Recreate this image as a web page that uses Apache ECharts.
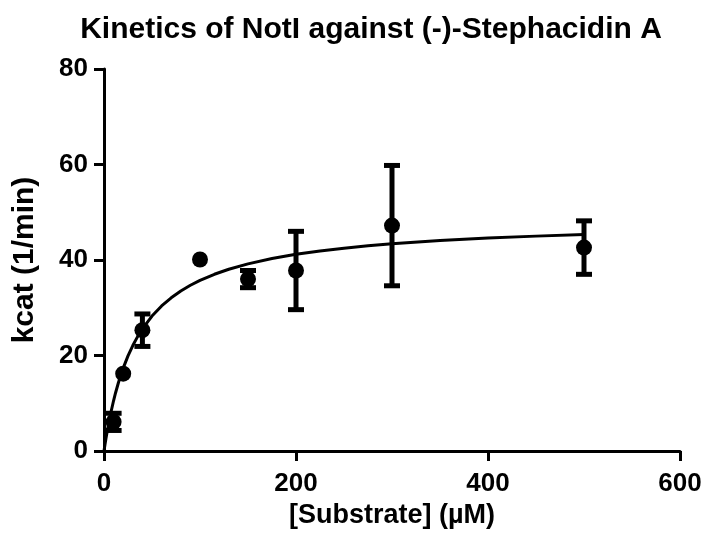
<!DOCTYPE html>
<html>
<head>
<meta charset="utf-8">
<script src="https://cdn.jsdelivr.net/npm/echarts@6/dist/echarts.min.js"></script>
<style>
  html, body { margin: 0; padding: 0; background: #ffffff; }
  #chart { width: 708px; height: 548px; }
</style>
</head>
<body>
<div id="chart"></div>
<script>
// Substrate concentrations (µM) and measured kcat (1/min), mean ± SD
var substrate = [10, 20, 40, 100, 150, 200, 300, 500];
var kcatMean  = [6.1, 16.2, 25.3, 40.1, 36.0, 37.8, 47.2, 42.6];
var kcatSD    = [1.8, 0, 3.4, 0, 1.8, 8.2, 12.6, 5.6];

// Michaelis–Menten fit curve, sampled along the substrate range
var fitX = [0, 1, 2, 3, 5, 7, 10, 12, 15, 20, 25, 30, 35, 40, 50, 60, 70, 80, 90, 100,
            115, 130, 150, 175, 200, 225, 250, 275, 300, 350, 400, 450, 500];
var fitY = [0, 1.31, 2.56, 3.74, 5.93, 7.91, 10.57, 12.15, 14.29, 17.36, 19.92, 22.09, 23.96, 25.58,
            28.26, 30.38, 32.09, 33.52, 34.71, 35.74, 37.01, 38.06, 39.19, 40.31, 41.19, 41.90,
            42.48, 42.97, 43.39, 44.07, 44.59, 45.00, 45.34];

// Axis ticks
var xTicks = [0, 200, 400, 600];
var yTicks = [0, 20, 40, 60, 80];

var FONT = '"Liberation Sans", Arial, Helvetica, sans-serif';

var points = substrate.map(function (x, i) { return [x, kcatMean[i]]; });
var errors = substrate.map(function (x, i) { return [x, kcatMean[i], kcatSD[i]]; });
var curve = fitX.map(function (x, i) { return [x, fitY[i]]; });

function renderErrorBar(params, api) {
  var x = api.value(0), m = api.value(1), sd = api.value(2);
  if (!(sd > 0)) return null;
  var top = api.coord([x, m + sd]);
  var bot = api.coord([x, m - sd]);
  var half = 8;
  var style = { stroke: '#000', lineWidth: 5, fill: null };
  return {
    type: 'group',
    children: [
      { type: 'line', shape: { x1: top[0], y1: top[1], x2: bot[0], y2: bot[1] }, style: style },
      { type: 'line', shape: { x1: top[0] - half, y1: top[1], x2: top[0] + half, y2: top[1] }, style: style },
      { type: 'line', shape: { x1: bot[0] - half, y1: bot[1], x2: bot[0] + half, y2: bot[1] }, style: style }
    ]
  };
}

var chart = echarts.init(document.getElementById('chart'), null, { renderer: 'canvas' });
chart.setOption({
  backgroundColor: '#ffffff',
  animation: false,
  title: {
    text: 'Kinetics of NotI against (-)-Stephacidin A',
    left: 366,
    top: 10,
    textAlign: 'center',
    textStyle: { fontFamily: FONT, fontWeight: 'bold', fontSize: 30, color: '#000' }
  },
  grid: { left: 104, right: 28, top: 69, bottom: 97, containLabel: false },
  xAxis: {
    type: 'value',
    min: xTicks[0],
    max: xTicks[xTicks.length - 1],
    interval: xTicks[1] - xTicks[0],
    name: '[Substrate] (µM)',
    nameLocation: 'middle',
    nameGap: 51,
    nameTextStyle: { fontFamily: FONT, fontWeight: 'bold', fontSize: 27, color: '#000' },
    axisLine: { lineStyle: { color: '#000', width: 3 } },
    axisTick: { show: true, inside: false, length: 10, lineStyle: { color: '#000', width: 3 } },
    axisLabel: { margin: 20, fontFamily: FONT, fontWeight: 'bold', fontSize: 26, color: '#000' },
    splitLine: { show: false }
  },
  yAxis: {
    type: 'value',
    min: yTicks[0],
    max: yTicks[yTicks.length - 1],
    interval: yTicks[1] - yTicks[0],
    name: 'kcat (1/min)',
    nameLocation: 'middle',
    nameGap: 64,
    nameTextStyle: { fontFamily: FONT, fontWeight: 'bold', fontSize: 30, color: '#000' },
    axisLine: { show: true, lineStyle: { color: '#000', width: 3 } },
    axisTick: { show: true, inside: false, length: 10, lineStyle: { color: '#000', width: 3 } },
    axisLabel: { margin: 16, fontFamily: FONT, fontWeight: 'bold', fontSize: 26, color: '#000' },
    splitLine: { show: false }
  },
  series: [
    {
      name: 'fit',
      type: 'line',
      data: curve,
      showSymbol: false,
      smooth: false,
      lineStyle: { color: '#000', width: 3 },
      z: 2
    },
    {
      name: 'error',
      type: 'custom',
      data: errors,
      renderItem: renderErrorBar,
      encode: { x: 0, y: 1 },
      z: 3
    },
    {
      name: 'kcat',
      type: 'scatter',
      data: points,
      symbol: 'circle',
      symbolSize: 16,
      itemStyle: { color: '#000', opacity: 1 },
      z: 4
    }
  ]
});
</script>
</body>
</html>
